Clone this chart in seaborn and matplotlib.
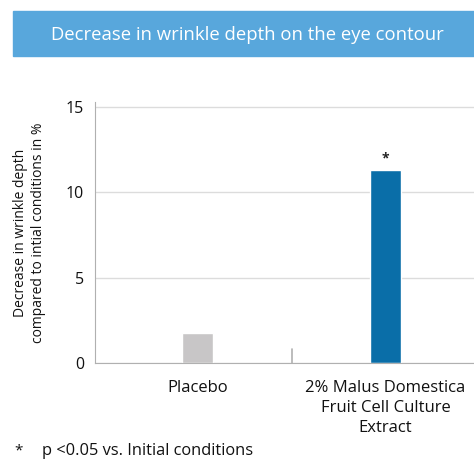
import numpy as np
import pandas as pd
import seaborn as sns
import matplotlib.pyplot as plt
from matplotlib.patches import Rectangle

sns.set_style('white')
plt.rcParams['font.family'] = ['Open Sans', 'DejaVu Sans']

categories = ['Placebo', '2% Malus Domestica\nFruit Cell Culture\nExtract']
values = [1.75, 11.3]
colors = ['#c8c6c7', '#0a6ea8']
significant = ['', '*']
yticks = [0, 5, 10, 15]

df = pd.DataFrame({'group': categories, 'value': values})

fig = plt.figure(figsize=(4.74, 4.59), dpi=100)
ax = fig.add_axes([95/474, 96/459, 1 - 95/474, (363-102)/459])

sns.barplot(data=df, x='group', y='value', hue='group', palette=colors,
            width=0.165, legend=False, ax=ax, saturation=1)

ax.set_xlim(-0.545, 1.47)
ax.set_ylim(0, 15.3)
ax.set_yticks(yticks)
ax.set_yticklabels([str(t) for t in yticks], fontsize=11.5, fontweight='medium', color='#111111')
ax.yaxis.grid(True, color='#dcdcdc', lw=1)
ax.set_axisbelow(True)
for s in ['top', 'right']:
    ax.spines[s].set_visible(False)
ax.spines['left'].set_color('#b0b0b0')
ax.spines['bottom'].set_color('#b0b0b0')
ax.tick_params(axis='y', length=0, pad=8)
ax.tick_params(axis='x', length=0, pad=12)
ax.set_xticks([0, 1])
ax.set_xticklabels(categories, fontsize=12, fontweight='medium', color='#111111', linespacing=1.35)
ax.set_xlabel('')
ax.set_ylabel('Decrease in wrinkle depth\ncompared to intial conditions in %',
              fontsize=10, color='#111111', labelpad=14, linespacing=1.25)

# separator tick between groups
ax.plot([0.5, 0.5], [0, 0.8], color='#b0b0b0', lw=1.2, clip_on=False)

for i, (v, s) in enumerate(zip(values, significant)):
    if s:
        ax.text(i, v + 0.25, s, ha='center', va='bottom', fontsize=10, fontweight='bold', color='#222222')

# title banner
fig.patches.append(Rectangle((13/474, 1 - 56/459), 1, 45/459, transform=fig.transFigure,
                             color='#58a7dc', zorder=0))
fig.text(247/474, 1 - 35/459, 'Decrease in wrinkle depth on the eye contour',
         ha='center', va='center', color='white', fontsize=13.3)

fig.text(14/474, 1 - 451/459, '*', ha='left', va='center', fontsize=11, color='#111111')
fig.text(42/474, 1 - 451/459, 'p <0.05 vs. Initial conditions', ha='left', va='center',
         fontsize=11.8, fontweight='medium', color='#111111')

fig.savefig('out.png', dpi=100)
